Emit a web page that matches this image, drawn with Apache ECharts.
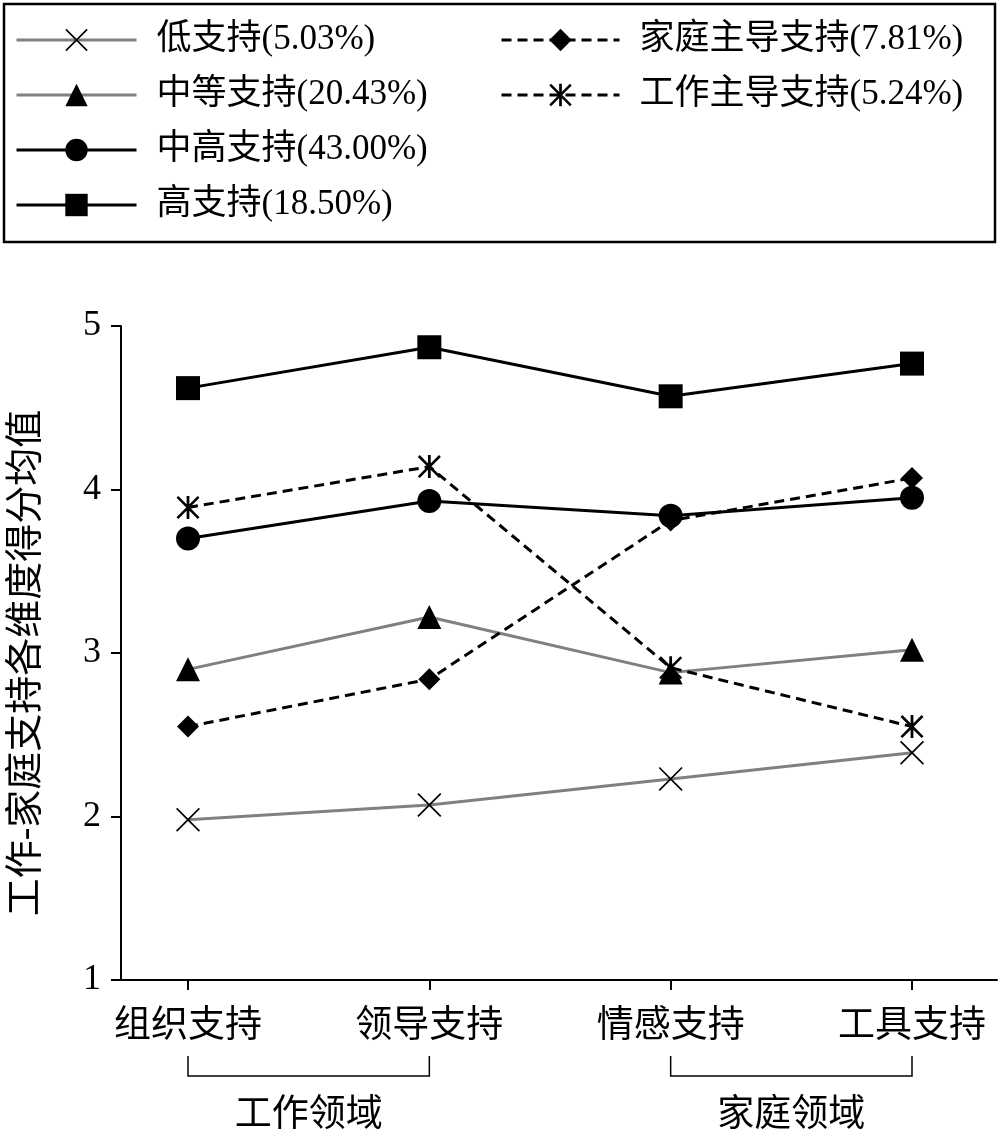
<!DOCTYPE html>
<html>
<head>
<meta charset="utf-8">
<title>工作-家庭支持</title>
<script src="https://cdn.jsdelivr.net/npm/echarts@6/dist/echarts.min.js"></script>
<style>
html,body{margin:0;padding:0;background:#fff}
#main{width:1000px;height:1130px}
</style>
</head>
<body>
<div id="main"></div>
<script>
// 数据
var categories = ['组织支持', '领导支持', '情感支持', '工具支持'];
var yTicks = [1, 2, 3, 4, 5];
var groupNames = ['工作领域', '家庭领域'];
var groupSpans = [[0, 1], [2, 3]];

var lowName = '低支持(5.03%)';
var midName = '中等支持(20.43%)';
var midHighName = '中高支持(43.00%)';
var highName = '高支持(18.50%)';
var familyName = '家庭主导支持(7.81%)';
var workName = '工作主导支持(5.24%)';

var lowData = [1.98, 2.07, 2.23, 2.39];
var midData = [2.90, 3.22, 2.88, 3.02];
var midHighData = [3.70, 3.93, 3.84, 3.95];
var highData = [4.62, 4.87, 4.57, 4.77];
var familyData = [2.55, 2.84, 3.81, 4.07];
var workData = [3.89, 4.14, 2.91, 2.55];

var FONT = "'Liberation Serif', 'Noto Sans CJK SC', serif";
var CJK = "'Noto Sans CJK SC', sans-serif";
var GRAY = '#808080';

// 自定义符号：叉号、米字号
var crossPath = 'path://M0,5L5,0L100,95L95,100ZM95,0L100,5L5,100L0,95Z';
var starPath = 'path://M0,8L8,0L100,92L92,100ZM92,0L100,8L8,100L0,92ZM44,0L56,0L56,100L44,100Z';

function makeSeries(name, data, color, dashed, symbol, size) {
    return {
        name: name,
        type: 'line',
        xAxisIndex: 1,
        yAxisIndex: 1,
        data: data,
        symbol: symbol,
        symbolSize: size,
        showAllSymbol: true,
        lineStyle: { color: color, width: 3, type: dashed ? [10, 6] : 'solid' },
        itemStyle: { color: '#000' },
        emphasis: { disabled: true }
    };
}

var myChart = echarts.init(document.getElementById('main'), null, { renderer: 'canvas' });

var legendText = { color: '#000', fontSize: 35, fontFamily: FONT, lineHeight: 36, padding: [0, 0, 0, 15] };

var option = {
    animation: false,
    backgroundColor: '#fff',
    legend: [{
        data: [lowName, midName, midHighName, highName],
        orient: 'vertical',
        left: 15,
        top: 22,
        padding: 0,
        itemWidth: 120,
        itemHeight: 28,
        itemGap: 19,
        selectedMode: false,
        lineStyle: { width: 3 },
        textStyle: legendText
    }, {
        data: [familyName, workName],
        orient: 'vertical',
        left: 500,
        top: 22,
        padding: 0,
        itemWidth: 118,
        itemHeight: 28,
        itemGap: 19,
        selectedMode: false,
        lineStyle: { width: 3 },
        textStyle: legendText
    }],
    grid: [
        { left: 103, right: 3, top: 326, bottom: 150, containLabel: false },
        { left: 188, right: 88, top: 326, bottom: 150, containLabel: false }
    ],
    xAxis: [{
        gridIndex: 0,
        type: 'value',
        min: 0,
        max: 1,
        axisLine: { show: true, lineStyle: { color: '#000', width: 2 } },
        axisTick: { show: false },
        axisLabel: { show: false },
        splitLine: { show: false }
    }, {
        gridIndex: 1,
        type: 'category',
        data: categories,
        boundaryGap: false,
        axisLine: { show: false },
        axisTick: { show: true, length: 10, inside: false, lineStyle: { color: '#000', width: 2 } },
        axisLabel: { color: '#000', fontSize: 37, fontFamily: CJK, margin: 24 },
        splitLine: { show: false }
    }],
    yAxis: [{
        gridIndex: 0,
        type: 'value',
        min: yTicks[0],
        max: yTicks[yTicks.length - 1],
        interval: 1,
        name: '工作-家庭支持各维度得分均值',
        nameLocation: 'middle',
        nameRotate: 90,
        nameGap: 75,
        nameTextStyle: { color: '#000', fontSize: 38, fontFamily: FONT, padding: [0, 20, 0, 0] },
        axisLine: { show: true, lineStyle: { color: '#000', width: 2 } },
        axisTick: { show: true, length: 10, lineStyle: { color: '#000', width: 2 } },
        axisLabel: { color: '#000', fontSize: 36, fontFamily: FONT, margin: 20 },
        splitLine: { show: false }
    }, {
        gridIndex: 1,
        type: 'value',
        min: yTicks[0],
        max: yTicks[yTicks.length - 1],
        interval: 1,
        show: false,
        splitLine: { show: false }
    }],
    series: [
        makeSeries(lowName, lowData, GRAY, false, crossPath, 24),
        makeSeries(midName, midData, GRAY, false, 'triangle', 24),
        makeSeries(midHighName, midHighData, '#000', false, 'circle', 24),
        makeSeries(highName, highData, '#000', false, 'rect', 24),
        makeSeries(familyName, familyData, '#000', true, 'diamond', 22),
        makeSeries(workName, workData, '#000', true, starPath, 23)
    ]
};
myChart.setOption(option);

// 图例外框与分组括号
var graphics = [{
    type: 'rect',
    shape: { x: 4, y: 4, width: 991, height: 238 },
    style: { fill: 'none', stroke: '#000', lineWidth: 2.5 }
}];
groupSpans.forEach(function (span, i) {
    var p0 = myChart.convertToPixel({ xAxisIndex: 1, yAxisIndex: 1 }, [span[0], 1]);
    var p1 = myChart.convertToPixel({ xAxisIndex: 1, yAxisIndex: 1 }, [span[1], 1]);
    graphics.push({
        type: 'polyline',
        shape: { points: [[p0[0], 1056], [p0[0], 1076], [p1[0], 1076], [p1[0], 1056]] },
        style: { fill: 'none', stroke: '#000', lineWidth: 1.5 }
    });
    graphics.push({
        type: 'text',
        x: (p0[0] + p1[0]) / 2,
        y: 1112,
        style: { text: groupNames[i], fill: '#000', fontSize: 37, fontFamily: CJK, align: 'center', verticalAlign: 'middle' }
    });
});
myChart.setOption({ graphic: graphics });
</script>
</body>
</html>
